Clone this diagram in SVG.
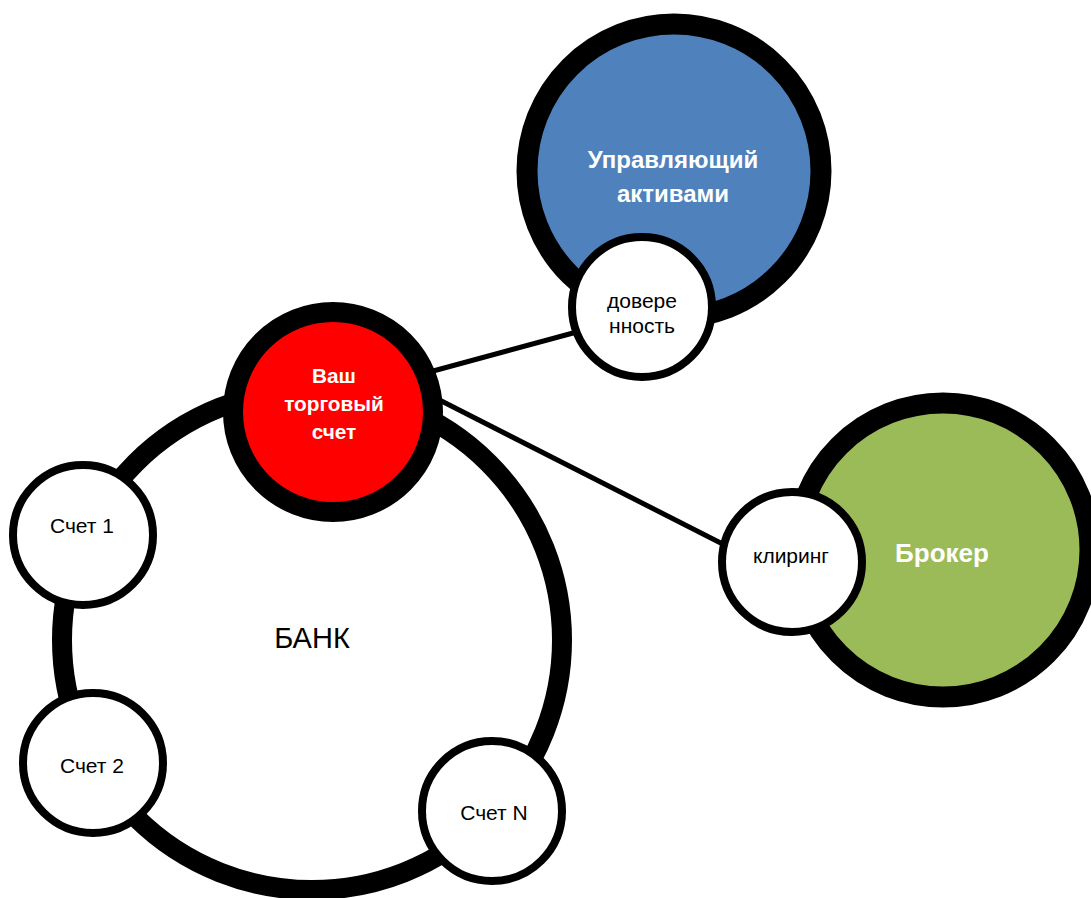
<svg xmlns="http://www.w3.org/2000/svg" width="1091" height="898" viewBox="0 0 1091 898">
  <style>
    .big { stroke-width: 21; }
    .small { fill: #ffffff; stroke: #000000; stroke-width: 8; }
    .lbl { font-family: "Liberation Sans", Arial, sans-serif; font-size: 21px; fill: #000000; text-anchor: middle; }
    .title { font-family: "Liberation Sans", Arial, sans-serif; font-weight: bold; fill: #ffffff; text-anchor: middle; }
    .conn { stroke: #000000; stroke-width: 5; fill: none; }
  </style>
  <rect width="1091" height="898" fill="#ffffff"/>

  <g id="bank">
    <circle cx="312" cy="640" r="250" fill="#ffffff" stroke="#000000" stroke-width="20"/>
    <text class="lbl" x="312" y="648" style="font-size:29px">БАНК</text>
  </g>

  <g id="connectors">
    <line class="conn" x1="400" y1="380" x2="610" y2="323"/>
    <line class="conn" x1="410" y1="385" x2="760" y2="563"/>
  </g>

  <g id="account1">
    <circle class="small" cx="83" cy="535" r="70"/>
    <text class="lbl" x="82" y="533">Счет 1</text>
  </g>

  <g id="account2">
    <circle class="small" cx="93" cy="763" r="70"/>
    <text class="lbl" x="92" y="773">Счет 2</text>
  </g>

  <g id="accountN">
    <circle class="small" cx="492" cy="811" r="70"/>
    <text class="lbl" x="494" y="820">Счет N</text>
  </g>

  <g id="trading-account">
    <circle cx="333" cy="412" r="100" fill="#ff0000" stroke="#000000" stroke-width="20"/>
    <text class="title" x="334" y="383" style="font-size:20.8px">Ваш</text>
    <text class="title" x="334" y="411" style="font-size:20.8px">торговый</text>
    <text class="title" x="334" y="439" style="font-size:20.8px">счет</text>
  </g>

  <g id="asset-manager">
    <circle class="big" cx="674" cy="171" r="147" fill="#4f81bd" stroke="#000000"/>
    <text class="title" x="673" y="168" style="font-size:24px">Управляющий</text>
    <text class="title" x="673" y="202" style="font-size:24px">активами</text>
  </g>

  <g id="trust">
    <circle class="small" cx="642" cy="307" r="70"/>
    <text class="lbl" x="642" y="308">довере</text>
    <text class="lbl" x="642" y="333">нность</text>
  </g>

  <g id="broker">
    <circle class="big" cx="943" cy="550" r="147" fill="#9bbb59" stroke="#000000"/>
    <text class="title" x="942" y="562" style="font-size:26px">Брокер</text>
  </g>

  <g id="clearing">
    <circle class="small" cx="792" cy="562" r="70"/>
    <text class="lbl" x="791" y="563">клиринг</text>
  </g>
</svg>
